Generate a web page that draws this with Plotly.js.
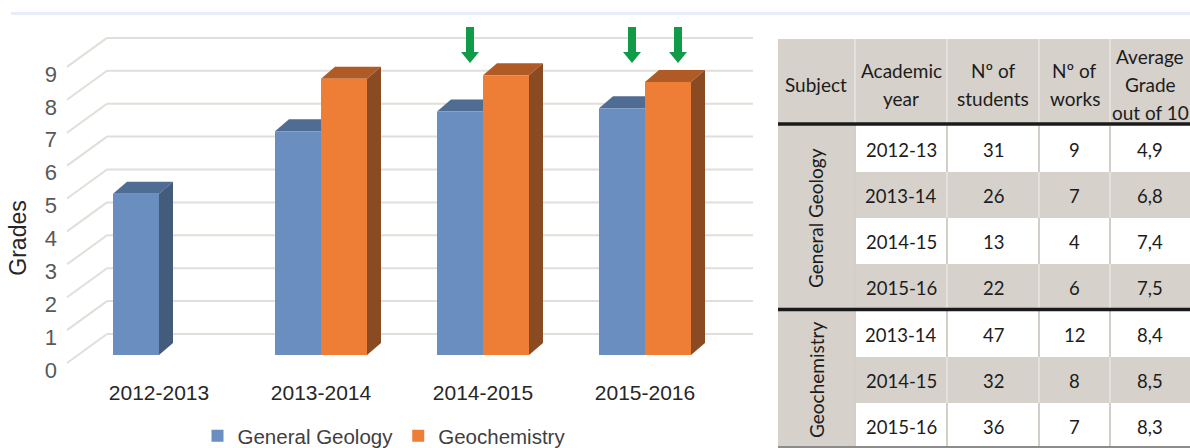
<!DOCTYPE html>
<html>
<head>
<meta charset="utf-8">
<script src="https://cdn.plot.ly/plotly-3.0.1.min.js"></script>
<style>html,body{margin:0;padding:0;background:#fff;}#chart{width:1190px;height:448px;}</style>
</head>
<body>
<div id="chart"></div>
<script>
// ---------- DATA ----------
const categories = ['2012-2013', '2013-2014', '2014-2015', '2015-2016'];
const seriesNames = ['General Geology', 'Geochemistry'];
const generalGeology = [4.9, 6.8, 7.4, 7.5];
const geochemistry = [null, 8.4, 8.5, 8.3];
const yTicks = [0, 1, 2, 3, 4, 5, 6, 7, 8, 9];
const yTitle = 'Grades';
const arrowCategories = ['2014-2015', '2015-2016', '2015-2016'];
const arrowSeries = ['General Geology', 'General Geology', 'Geochemistry'];

const tableHeaders = [['Subject'], ['Academic', 'year'], ['Nº of', 'students'], ['Nº of', 'works'], ['Average', 'Grade', 'out of 10']];
const tableSubjects = ['General Geology', 'Geochemistry'];
const rowSubject = ['General Geology', 'General Geology', 'General Geology', 'General Geology', 'Geochemistry', 'Geochemistry', 'Geochemistry'];
const rowYear = ['2012-13', '2013-14', '2014-15', '2015-16', '2013-14', '2014-15', '2015-16'];
const rowStudents = [31, 26, 13, 22, 47, 32, 36];
const rowWorks = [9, 7, 4, 6, 12, 8, 7];
const rowAverage = [4.9, 6.8, 7.4, 7.5, 8.4, 8.5, 8.3];

// ---------- GEOMETRY / STYLE ----------
const W = 1190, H = 448;
const CAT0 = 159, CATSTEP = 162;      // pixel of first category, pixels per category
const BASE = 355, UNIT = 32.9;         // pixel of value 0 (bar plane), pixels per unit
const LABEL_BASE = 370;                // value 0 of tick-label plane
const fx = p => p / W, fy = p => 1 - p / H;
const dX = p => p / CATSTEP, dY = p => p / UNIT;
const xData = p => (p - CAT0) / CATSTEP;
const yData = p => (BASE - p) / UNIT;

const frontCol = ['#6a8ec0', '#ee7d35'];
const topCol = ['#4f6c93', '#b05b26'];
const sideCol = ['#435c7b', '#8a4a22'];
const seriesValues = [generalGeology, geochemistry];
const BAR_W = 46 / CATSTEP;
const offsets = [-BAR_W, 0];
const DEPTH_X = dX(14), DEPTH_Y = dY(12);

const shapes = [];
const annotations = [];

// top decorative band
shapes.push({type: 'rect', xref: 'paper', yref: 'paper', x0: fx(11), x1: 1, y0: fy(15), y1: fy(12),
  fillcolor: '#e7eef8', line: {width: 0}, layer: 'below'});

// back wall grid + left wall diagonals
const gridCol = '#e2ded9';
yTicks.forEach(v => {
  const yb = v + dY(21);
  shapes.push({type: 'line', xref: 'x', yref: 'y', x0: xData(107), x1: xData(753), y0: yb, y1: yb,
    line: {color: gridCol, width: 2}, layer: 'below'});
  shapes.push({type: 'line', xref: 'x', yref: 'y', x0: xData(67), y0: v - dY(8), x1: xData(107), y1: yb,
    line: {color: gridCol, width: 2}, layer: 'below'});
});

// 3D faces of bars
seriesValues.forEach((vals, s) => {
  vals.forEach((v, i) => {
    if (v === null) return;
    const x0 = i + offsets[s], x1 = x0 + BAR_W;
    shapes.push({type: 'path', xref: 'x', yref: 'y', layer: 'below', fillcolor: topCol[s], line: {width: 0},
      path: `M${x0},${v} L${x1},${v} L${x1 + DEPTH_X},${v + DEPTH_Y} L${x0 + DEPTH_X},${v + DEPTH_Y} Z`});
    shapes.push({type: 'path', xref: 'x', yref: 'y', layer: 'below', fillcolor: sideCol[s], line: {width: 0},
      path: `M${x1},0 L${x1},${v} L${x1 + DEPTH_X},${v + DEPTH_Y} L${x1 + DEPTH_X},${DEPTH_Y} Z`});
  });
});

// green arrows
arrowCategories.forEach((c, k) => {
  const i = categories.indexOf(c), s = seriesNames.indexOf(arrowSeries[k]);
  const cx = i + offsets[s] + BAR_W / 2 + dX(10);
  const top = yData(27), head = yData(52), tip = yData(63);
  const sw = dX(4), hw = dX(9);
  shapes.push({type: 'path', xref: 'x', yref: 'y', layer: 'above', fillcolor: '#0f9b47', line: {width: 0},
    path: `M${cx - sw},${top} L${cx + sw},${top} L${cx + sw},${head} L${cx + hw},${head} L${cx},${tip} L${cx - hw},${head} L${cx - sw},${head} Z`});
});

// ---------- TABLE ----------
const colEdges = [778, 855, 947, 1039, 1110, 1190];
const colCenters = [816, 901, 993, 1074.5, 1150];
const HEAD_TOP = 39, HEAD_BOT = 124;
const ROW_H = 46;
const sectionTop = [126, 311];
const tGray = '#d6d1cb';
const tText = '#1c1c1c';
const tFont = 'Lato, "Open Sans", sans-serif';
const tSizeHead = 19, tSizeBody = 18.5;

// header fill
shapes.push({type: 'rect', xref: 'paper', yref: 'paper', x0: fx(colEdges[0]), x1: 1, y0: fy(HEAD_BOT), y1: fy(HEAD_TOP),
  fillcolor: tGray, line: {width: 0}});
// subject column fill
shapes.push({type: 'rect', xref: 'paper', yref: 'paper', x0: fx(colEdges[0]), x1: fx(colEdges[1]), y0: fy(H), y1: fy(HEAD_BOT),
  fillcolor: tGray, line: {width: 0}});

rowSubject.forEach((sub, r) => {
  const sec = tableSubjects.indexOf(sub);
  const idx = rowSubject.slice(0, r).filter(x => x === sub).length;
  const top = sectionTop[sec] + idx * ROW_H;
  const gray = idx % 2 === 1;
  if (gray) {
    shapes.push({type: 'rect', xref: 'paper', yref: 'paper', x0: fx(colEdges[1]), x1: 1, y0: fy(top + ROW_H), y1: fy(top),
      fillcolor: tGray, line: {width: 0}});
  }
  colEdges.slice(2, 5).forEach(xe => {
    shapes.push({type: 'line', xref: 'paper', yref: 'paper', x0: fx(xe), x1: fx(xe), y0: fy(top + ROW_H), y1: fy(top),
      line: {color: gray ? '#e4e1dd' : '#d3cec8', width: 2}});
  });
  const cells = [rowYear[r], String(rowStudents[r]), String(rowWorks[r]), rowAverage[r].toFixed(1).replace('.', ',')];
  cells.forEach((t, c) => {
    annotations.push({xref: 'paper', yref: 'paper', x: fx(colCenters[c + 1]), y: fy(top + ROW_H / 2 + 0.5), text: t,
      showarrow: false, xanchor: 'center', yanchor: 'middle', font: {family: tFont, size: tSizeBody, color: tText}});
  });
});
colEdges.slice(1, 5).forEach(xe => {
  shapes.push({type: 'line', xref: 'paper', yref: 'paper', x0: fx(xe), x1: fx(xe), y0: fy(HEAD_BOT), y1: fy(HEAD_TOP),
    line: {color: '#e4e1dd', width: 2}});
});
shapes.push({type: 'line', xref: 'paper', yref: 'paper', x0: fx(colEdges[1]), x1: fx(colEdges[1]), y0: fy(H), y1: fy(HEAD_BOT),
  line: {color: '#d3cec8', width: 2}});
// header text, line by line
const HEAD_MID = 85, HEAD_LINE = 28;
tableHeaders.forEach((lines, c) => {
  lines.forEach((t, k) => {
    annotations.push({xref: 'paper', yref: 'paper', x: fx(colCenters[c]), y: fy(HEAD_MID + (k - (lines.length - 1) / 2) * HEAD_LINE),
      text: t, showarrow: false, xanchor: 'center', yanchor: 'middle', font: {family: tFont, size: tSizeHead, color: tText}});
  });
});
// subject labels (rotated)
tableSubjects.forEach((sub, sec) => {
  const n = rowSubject.filter(x => x === sub).length;
  const mid = sectionTop[sec] + n * ROW_H / 2;
  annotations.push({xref: 'paper', yref: 'paper', x: fx(colCenters[0]), y: fy(mid), text: sub, textangle: -90,
    showarrow: false, xanchor: 'center', yanchor: 'middle', font: {family: tFont, size: tSizeHead, color: tText}});
});
shapes.push({type: 'line', xref: 'paper', yref: 'paper', x0: fx(colEdges[0]), x1: 1, y0: fy(HEAD_BOT), y1: fy(HEAD_BOT),
  line: {color: '#1a1a1a', width: 3.5}});
shapes.push({type: 'line', xref: 'paper', yref: 'paper', x0: fx(colEdges[0]), x1: 1, y0: fy(309.5), y1: fy(309.5),
  line: {color: '#1a1a1a', width: 3.5}});
shapes.push({type: 'line', xref: 'paper', yref: 'paper', x0: fx(colEdges[0]), x1: 1, y0: fy(447), y1: fy(447),
  line: {color: '#8c8c8c', width: 2}});

// ---------- TRACES ----------
const traces = seriesValues.map((vals, s) => ({
  type: 'bar', name: seriesNames[s], x: categories.map((c, i) => i), y: vals,
  width: BAR_W, offset: offsets[s], marker: {color: frontCol[s], line: {width: 0}}, hoverinfo: 'skip'
}));
traces.push({type: 'scatter', mode: 'markers', x: [0], y: [-50], xaxis: 'x', yaxis: 'y2',
  marker: {opacity: 0}, showlegend: false, hoverinfo: 'skip'});

const layout = {
  width: W, height: H,
  margin: {l: 0, r: 0, t: 0, b: 0, pad: 0, autoexpand: false},
  paper_bgcolor: '#ffffff', plot_bgcolor: 'rgba(0,0,0,0)',
  font: {family: '"Liberation Sans", Arial, sans-serif', color: '#404040'},
  barmode: 'overlay',
  showlegend: true,
  legend: {orientation: 'h', x: fx(384), xanchor: 'center', y: fy(436), yanchor: 'middle',
    font: {size: 20.5, color: '#404040'}, bgcolor: 'rgba(0,0,0,0)', itemwidth: 30, traceorder: 'normal'},
  xaxis: {
    domain: [0, fx(773)], range: [xData(0), xData(773)],
    tickvals: categories.map((c, i) => i), ticktext: categories,
    ticks: 'outside', ticklen: 2, tickcolor: 'rgba(0,0,0,0)',
    tickfont: {size: 21, color: '#262626'},
    showgrid: false, zeroline: false, showline: false, fixedrange: true
  },
  yaxis: {
    domain: [fy(372), fy(20)], range: [yData(372), yData(20)],
    showticklabels: false, showgrid: false, zeroline: false, showline: false, fixedrange: true
  },
  yaxis2: {
    anchor: 'free', position: fx(57), side: 'left',
    domain: [fy(405), fy(71)], range: [(LABEL_BASE - 405) / UNIT, (LABEL_BASE - 71) / UNIT],
    tickvals: yTicks, ticks: '', tickfont: {size: 22, color: '#595959'},
    showgrid: false, zeroline: false, showline: false, fixedrange: true,
    title: {text: yTitle, font: {size: 23, color: '#262626'}, standoff: 10}
  },
  shapes: shapes,
  annotations: annotations
};

Plotly.newPlot('chart', traces, layout, {staticPlot: true, displayModeBar: false});
</script>
</body>
</html>
